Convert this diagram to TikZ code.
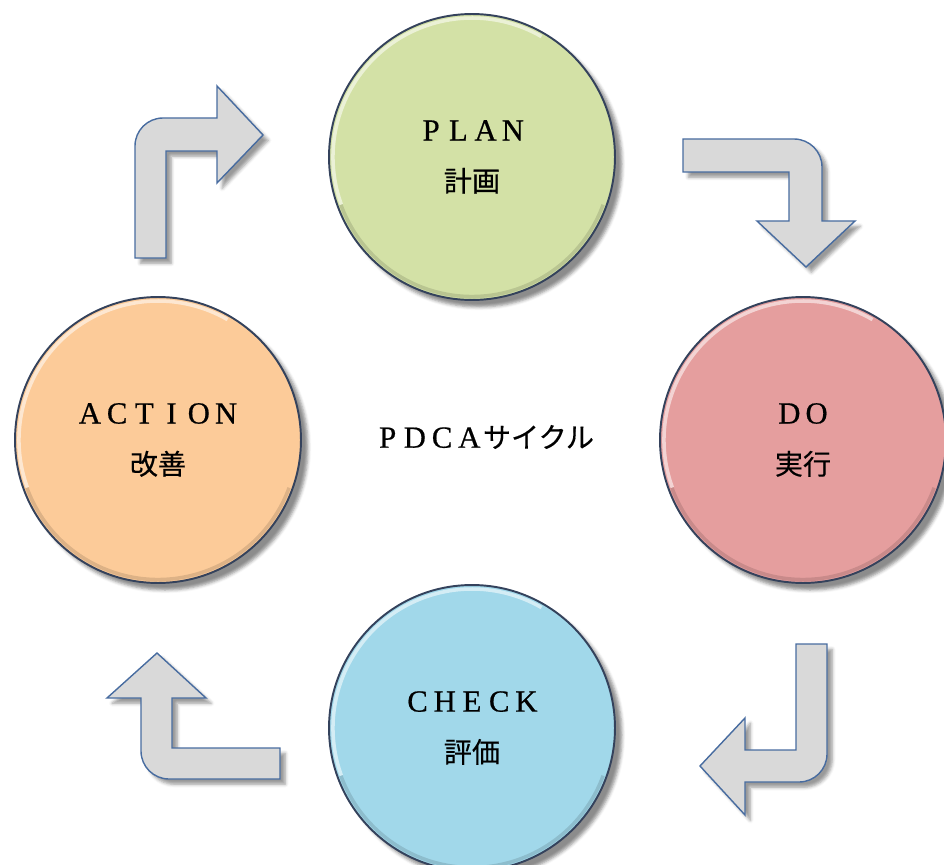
\documentclass[tikz,border=0pt]{standalone}
\usepackage{fontspec}
\setmainfont{Liberation Serif}
\newfontfamily\capsfont[FakeBold=0.6]{Liberation Serif}
\newfontfamily\jpfont[FakeBold=0.4]{Noto Sans CJK JP}
\usetikzlibrary{shadows.blur}

\definecolor{plangreen}{RGB}{211,225,166}
\definecolor{dopink}{RGB}{229,158,158}
\definecolor{checkblue}{RGB}{161,216,234}
\definecolor{actionorange}{RGB}{252,203,153}
\definecolor{rimblue}{RGB}{52,66,92}
\definecolor{arrowgray}{RGB}{217,217,217}
\definecolor{arrowblue}{RGB}{72,108,160}

% full-width look for latin capitals
\newcommand\spacedcaps[1]{{\capsfont\fontsize{17.5pt}{17.5pt}\selectfont\spacedstep#1\relax}}
\def\spacedstep#1{\ifx\relax#1\else\makebox[15.5pt]{#1}\expandafter\spacedstep\fi}

\tikzset{
  phase/.style={circle, draw=rimblue, line width=1.1pt, minimum size=5.72cm,
    inner sep=0pt, align=center, font=\fontsize{16pt}{29pt}\selectfont,
    blur shadow={shadow xshift=4pt, shadow yshift=-4pt, shadow opacity=45}},
  bentarrow/.style={draw=arrowblue, fill=arrowgray, line width=0.8pt,
    blur shadow={shadow xshift=3pt, shadow yshift=-3pt, shadow opacity=40}},
}

\begin{document}
\begin{tikzpicture}[x=0.02cm,y=-0.02cm]
  \useasboundingbox (0,0) rectangle (944,865);
  \clip (0,0) rectangle (944,865);

  %% the four phases
  \node[phase, fill=plangreen]    (plan)   at (472,157) {\spacedcaps{PLAN}\\{\jpfont 計画}};
  \node[phase, fill=dopink]       (do)     at (803,440) {\spacedcaps{DO}\\{\jpfont 実行}};
  \node[phase, fill=checkblue]    (check)  at (472,728) {\spacedcaps{CHECK}\\{\jpfont 評価}};
  \node[phase, fill=actionorange] (action) at (158,440) {\spacedcaps{ACTION}\\{\jpfont 改善}};

  % light rim top left, dark rim bottom right
  \foreach \n in {plan,do,check,action}
  {
    \draw[white, opacity=.55, line width=2pt] (\n.center) ++(160:139) arc[start angle=160, end angle=300, radius=139];
    \draw[black, opacity=.12, line width=2pt] (\n.center) ++(20:139.5) arc[start angle=20, end angle=160, radius=139.5];
  }

  \node (pdca) at (484,437) {\fontsize{16pt}{20pt}\selectfont\spacedcaps{PDCA}{\jpfont サイクル}};

  %% the bent arrows
  % action -> plan
  \draw[bentarrow] (135,258) -- (135,146) .. controls (135,130.5) and (147.5,118) .. (163,118)
    -- (217,118) -- (217,86) -- (263,135) -- (217,183) -- (217,151) -- (166,151) -- (166,258) -- cycle;
  % plan -> do
  \draw[bentarrow] (683,139) -- (794,139) .. controls (809.5,139) and (822,151.5) .. (822,167)
    -- (822,221) -- (855,221) -- (806,267) -- (757,221) -- (789,221) -- (789,172) -- (683,172) -- cycle;
  % do -> check
  \draw[bentarrow] (796,644) -- (827,644) -- (827,754) .. controls (827,769.5) and (814.5,782) .. (799,782)
    -- (745,782) -- (745,815) -- (700,766) -- (745,718) -- (745,750) -- (796,750) -- cycle;
  % check -> action
  \draw[bentarrow] (280,748) -- (280,779) -- (169,779) .. controls (153.5,779) and (141,766.5) .. (141,751)
    -- (141,698) -- (107,698) -- (157,653) -- (206,698) -- (172,698) -- (172,748) -- cycle;
\end{tikzpicture}
\end{document}
